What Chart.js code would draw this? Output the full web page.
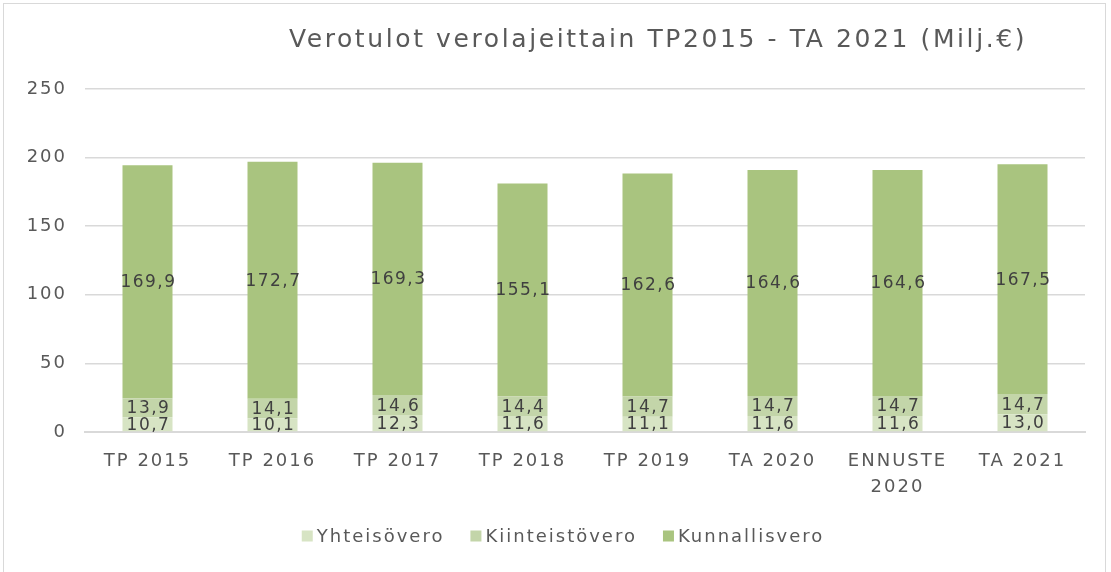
<!DOCTYPE html>
<html><head><meta charset="utf-8">
<script src="https://cdn.jsdelivr.net/npm/chart.js@4/dist/chart.umd.min.js"></script>
<style>html,body{margin:0;padding:0;background:#fff}#c{display:block}</style>
</head><body>
<canvas id="c" width="1111" height="572"></canvas>
<script>
const categories = ["TP 2015","TP 2016","TP 2017","TP 2018","TP 2019","TA 2020",["ENNUSTE","2020"],"TA 2021"];
const yhteisovero = [10.7,10.1,12.3,11.6,11.1,11.6,11.6,13.0];
const kiinteistovero = [13.9,14.1,14.6,14.4,14.7,14.7,14.7,14.7];
const kunnallisvero = [169.9,172.7,169.3,155.1,162.6,164.6,164.6,167.5];
const seriesNames = ["Yhteisövero","Kiinteistövero","Kunnallisvero"];
const yTicks = [0,50,100,150,200,250];
const titleText = "Verotulot verolajeittain TP2015 - TA 2021 (Milj.€)";
const colors = ["#d7e4c4","#c3d5a9","#a9c47f"];
const FONT = "'DejaVu Sans', sans-serif";

const extras = {
  id: 'extras',
  beforeLayout(chart) { chart.ctx.letterSpacing = '2px'; },
  beforeDraw(chart) {
    const ctx = chart.ctx;
    ctx.save();
    ctx.fillStyle = '#fff';
    ctx.fillRect(0,0,chart.width,chart.height);
    ctx.strokeStyle = '#d9d9d9';
    ctx.lineWidth = 1;
    ctx.strokeRect(3.5,3.5,1102,580);
    ctx.restore();
    ctx.letterSpacing = '2px';
  },
  afterDraw(chart) {
    const ctx = chart.ctx;
    ctx.save();
    // title
    ctx.letterSpacing = '2.6px';
    ctx.font = "25px " + FONT;
    ctx.fillStyle = '#595959';
    ctx.textAlign = 'center';
    ctx.textBaseline = 'middle';
    ctx.fillText(titleText, 658, 40);
    // data labels
    ctx.letterSpacing = '1.5px';
    ctx.font = "17px " + FONT;
    ctx.fillStyle = '#404040';
    chart.data.datasets.forEach((ds, di) => {
      const meta = chart.getDatasetMeta(di);
      meta.data.forEach((bar, i) => {
        const v = ds.data[i];
        const yc = (bar.y + bar.base) / 2;
        ctx.fillText(v.toFixed(1).replace('.', ','), bar.x + 1, yc + 1);
      });
    });
    // legend
    ctx.letterSpacing = '2px';
    ctx.font = "18px " + FONT;
    ctx.textAlign = 'left';
    const y = 536;
    let widths = seriesNames.map(n => ctx.measureText(n).width);
    const box = 11, gap = 4, sep = 26;
    let total = widths.reduce((a,w)=>a+box+gap+w,0) + sep*(seriesNames.length-1);
    let x = 563 - total/2;
    seriesNames.forEach((n, i) => {
      ctx.fillStyle = colors[i];
      ctx.fillRect(x, y - box/2, box, box);
      ctx.fillStyle = '#595959';
      ctx.fillText(n, x + box + gap, y + 1);
      x += box + gap + widths[i] + sep;
    });
    ctx.restore();
  }
};

new Chart(document.getElementById('c'), {
  type: 'bar',
  data: {
    labels: categories,
    datasets: [
      {label: seriesNames[0], data: yhteisovero, backgroundColor: colors[0]},
      {label: seriesNames[1], data: kiinteistovero, backgroundColor: colors[1]},
      {label: seriesNames[2], data: kunnallisvero, backgroundColor: colors[2]}
    ]
  },
  options: {
    responsive: false,
    animation: false,
    devicePixelRatio: 1,
    layout: {padding: {top: 89, right: 26, left: 0, bottom: 0}},
    datasets: {bar: {categoryPercentage: 1, barPercentage: 0.4}},
    plugins: {legend: {display: false}, title: {display: false}, tooltip: {enabled: false}},
    scales: {
      x: {
        stacked: true,
        grid: {display: false, drawTicks: false},
        border: {color: '#d9d9d9', width: 2},
        ticks: {font: {size: 18, family: FONT, lineHeight: 1.45}, color: '#595959', padding: 16, maxRotation: 0, autoSkip: false},
        afterFit(s) { s.height = 140; }
      },
      y: {
        stacked: true,
        min: 0, max: 250,
        afterBuildTicks(s) { s.ticks = yTicks.map(v => ({value: v})); },
        grid: {color: '#d9d9d9', lineWidth: 1.5, drawTicks: false},
        border: {display: false},
        ticks: {font: {size: 18, family: FONT}, color: '#595959', padding: 18},
        afterFit(s) { s.width = 85; }
      }
    }
  },
  plugins: [extras]
});
</script>
</body></html>
